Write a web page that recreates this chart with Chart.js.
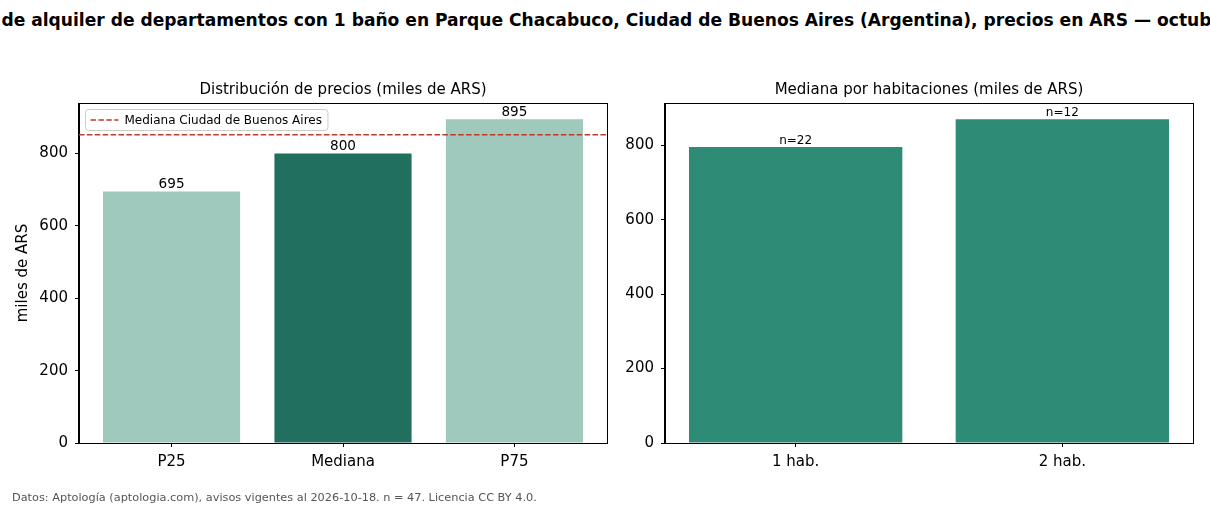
<!DOCTYPE html>
<html>
<head>
<meta charset="utf-8">
<script src="https://cdn.jsdelivr.net/npm/chart.js@4/dist/chart.umd.min.js"></script>
<style>
  html, body { margin: 0; padding: 0; background: #fff; }
  body { width: 1210px; height: 506px; position: relative; overflow: hidden; font-family: "DejaVu Sans", sans-serif; }
  #sup { position: absolute; left: 0; top: 10px; width: 1210px; display: flex; justify-content: center; overflow: hidden; }
  #sup span { white-space: nowrap; font-weight: bold; font-size: 17.1px; color: #000; flex: none; }
  #foot { position: absolute; left: 12px; top: 491px; font-size: 11.3px; color: #555; white-space: nowrap; }
  .box { position: absolute; top: 0; height: 506px; }
</style>
</head>
<body>
<div id="sup"><span>Precios de alquiler de departamentos con 1 baño en Parque Chacabuco, Ciudad de Buenos Aires (Argentina), precios en ARS — octubre 2026</span></div>
<div class="box" style="left:0;width:620px"><canvas id="c1" width="620" height="506"></canvas></div>
<div class="box" style="left:620px;width:590px"><canvas id="c2" width="590" height="506"></canvas></div>
<div id="foot">Datos: Aptología (aptologia.com), avisos vigentes al 2026-10-18. n = 47. Licencia CC BY 4.0.</div>
<script>
// ---- data ----
const distCategories = ['P25', 'Mediana', 'P75'];
const distValues = [695, 800, 895];
const cityMedian = 852;
const roomCategories = ['1 hab.', '2 hab.'];
const roomValues = [795, 870];
const roomCounts = [22, 12];
const yTicks1 = [0, 200, 400, 600, 800];
const yTicks2 = [0, 200, 400, 600, 800];

const FONT = '"DejaVu Sans", sans-serif';
const lightGreen = '#9ec9bc', darkGreen = '#216f5e', midGreen = '#2e8b76', red = '#c0392b';

const valueLabels = {
  id: 'valueLabels',
  afterDatasetsDraw(chart, args, opts) {
    const meta = chart.getDatasetMeta(0);
    const ctx = chart.ctx;
    ctx.save();
    ctx.fillStyle = '#000';
    ctx.font = opts.size + 'px ' + FONT;
    ctx.textAlign = 'center';
    ctx.textBaseline = 'bottom';
    meta.data.forEach((el, i) => {
      ctx.fillText(opts.labels[i], el.x, el.y - opts.gap);
    });
    ctx.restore();
  }
};

// full box frame around plot area (matplotlib spines)
const frame = {
  id: 'frame',
  afterDraw(chart) {
    const a = chart.chartArea;
    const ctx = chart.ctx;
    ctx.save();
    ctx.strokeStyle = '#000';
    ctx.lineWidth = 1;
    ctx.strokeRect(Math.round(a.left) - 0.5, Math.round(a.top) + 0.5, Math.round(a.right - a.left) + 1, Math.round(a.bottom - a.top));
    ctx.restore();
  }
};

// legend drawn inside plot area (upper left), matplotlib style
const insideLegend = {
  id: 'insideLegend',
  afterDraw(chart) {
    const ds = chart.data.datasets[1];
    if (!ds) return;
    const ctx = chart.ctx;
    const a = chart.chartArea;
    const x0 = a.left + 6.5, y0 = a.top + 6.5;
    ctx.save();
    ctx.font = '12px ' + FONT;
    const tw = ctx.measureText(ds.label).width;
    const w = 45 + tw, h = 21;
    ctx.fillStyle = 'rgba(255,255,255,0.8)';
    ctx.strokeStyle = '#cccccc';
    ctx.lineWidth = 1;
    ctx.beginPath();
    ctx.roundRect(x0, y0, w, h, 3);
    ctx.fill();
    ctx.stroke();
    const cy = y0 + h / 2;
    ctx.strokeStyle = ds.borderColor;
    ctx.lineWidth = ds.borderWidth;
    ctx.setLineDash(ds.borderDash);
    ctx.beginPath();
    ctx.moveTo(x0 + 5, cy);
    ctx.lineTo(x0 + 33, cy);
    ctx.stroke();
    ctx.setLineDash([]);
    ctx.fillStyle = '#000';
    ctx.textBaseline = 'middle';
    ctx.fillText(ds.label, x0 + 39, cy + 0.5);
    ctx.restore();
  }
};

function makeX(min, max, labels, heightPx) {
  return {
    type: 'linear', min: min, max: max, offset: false,
    afterBuildTicks: s => { s.ticks = labels.map((_, i) => ({ value: i })); },
    ticks: { callback: v => labels[v], color: '#000', font: { family: FONT, size: 15 }, padding: 6, maxRotation: 0, autoSkip: false },
    grid: { offset: false, drawOnChartArea: false, drawTicks: true, tickLength: 4, color: '#000', lineWidth: 1 },
    border: { display: true, color: '#000', width: 1 },
    afterFit: s => { s.height = heightPx; }
  };
}
function makeY(max, ticksArr, widthPx, withTitle) {
  return {
    min: 0, max: max,
    afterBuildTicks: s => { s.ticks = ticksArr.map(v => ({ value: v })); },
    ticks: { color: '#000', font: { family: FONT, size: 15 }, padding: 7 },
    grid: { drawOnChartArea: false, drawTicks: true, tickLength: 4, color: '#000', lineWidth: 1 },
    border: { display: true, color: '#000', width: 1 },
    title: { display: withTitle, text: 'miles de ARS', color: '#000', font: { family: FONT, size: 15 }, padding: { top: 14, bottom: 0 } },
    afterFit: s => { s.width = widthPx; }
  };
}

new Chart(document.getElementById('c1'), {
  type: 'bar',
  data: {
    datasets: [
      {
        label: 'dist',
        data: distValues.map((v, i) => ({ x: i, y: v })),
        backgroundColor: [lightGreen, darkGreen, lightGreen],
        borderWidth: 0,
        categoryPercentage: 0.8, barPercentage: 1, order: 2
      },
      {
        type: 'line',
        label: 'Mediana Ciudad de Buenos Aires',
        data: [{ x: -0.54, y: cityMedian }, { x: 2.54, y: cityMedian }],
        borderColor: red, backgroundColor: red, borderWidth: 1.5, borderDash: [5.5, 2.4],
        pointRadius: 0, order: 1
      }
    ]
  },
  options: {
    responsive: false, animation: false,
    layout: { padding: { left: 0, right: 13, top: 81, bottom: 0 } },
    scales: { x: makeX(-0.54, 2.54, distCategories, 63), y: makeY(939.75, yTicks1, 79, true) },
    plugins: {
      title: { display: true, fullSize: false, text: 'Distribución de precios (miles de ARS)', color: '#000', font: { family: FONT, size: 15, weight: 'normal' }, padding: { top: 0, bottom: 4 } },
      legend: { display: false },
      tooltip: { enabled: false },
      valueLabels: { labels: distValues.map(String), size: 13.6, gap: 0 }
    }
  },
  plugins: [valueLabels, frame, insideLegend]
});

new Chart(document.getElementById('c2'), {
  type: 'bar',
  data: {
    datasets: [{
      label: 'hab',
      data: roomValues.map((v, i) => ({ x: i, y: v })),
      backgroundColor: midGreen,
      borderWidth: 0,
      categoryPercentage: 0.8, barPercentage: 1
    }]
  },
  options: {
    responsive: false, animation: false,
    layout: { padding: { left: 0, right: 17, top: 81, bottom: 0 } },
    scales: { x: makeX(-0.49, 1.49, roomCategories, 63), y: makeY(Math.max(...roomValues) * 1.05, yTicks2, 45, false) },
    plugins: {
      title: { display: true, fullSize: false, text: 'Mediana por habitaciones (miles de ARS)', color: '#000', font: { family: FONT, size: 15, weight: 'normal' }, padding: { top: 0, bottom: 4 } },
      legend: { display: false },
      tooltip: { enabled: false },
      valueLabels: { labels: roomCounts.map(n => 'n=' + n), size: 12, gap: 0 }
    }
  },
  plugins: [valueLabels, frame]
});
</script>
</body>
</html>
